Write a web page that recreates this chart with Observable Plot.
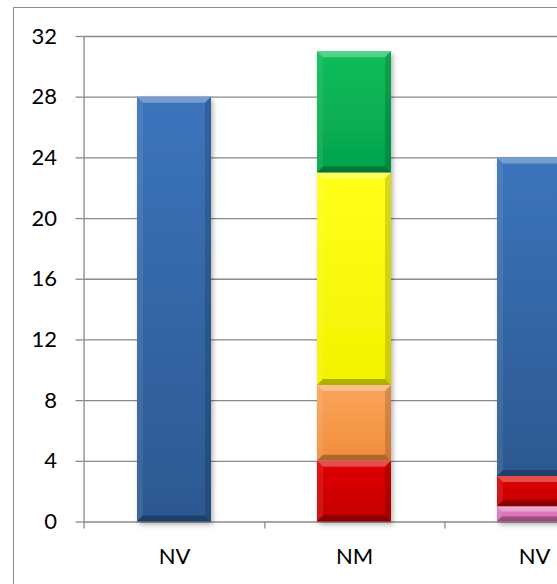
<!DOCTYPE html>
<html>
<head>
<meta charset="utf-8">
<script src="https://cdn.jsdelivr.net/npm/d3@7"></script>
<script src="https://cdn.jsdelivr.net/npm/@observablehq/plot@0.6"></script>
<style>
  html, body { margin: 0; padding: 0; background: #fff; overflow: hidden; }
  #wrap { position: relative; width: 557px; height: 584px; }
  #border { position: absolute; left: 13px; top: 7px; right: -2px; bottom: -2px;
            border-left: 1px solid #8c8c8c; border-top: 1px solid #8c8c8c; pointer-events: none; }
  svg { overflow: hidden; }
  svg [aria-label="y-axis tick"] { stroke: #898989; stroke-width: 1.3; }
</style>
</head>
<body>
<div id="wrap"><div id="border"></div></div>
<script>
// ---- data ----
const categoryKeys = ["c1", "c2", "c3"];
const categoryLabels = ["NV", "NM", "NV"];
const seriesNames = ["series1", "series2", "series3", "series4", "series5", "series6"];
const series1Values = [0, 0, 1];   // pink
const series2Values = [0, 4, 2];   // red
const series3Values = [0, 5, 0];   // orange
const series4Values = [0, 14, 0];  // yellow
const series5Values = [0, 8, 0];   // green
const series6Values = [28, 0, 21]; // blue
const yTicks = [0, 4, 8, 12, 16, 20, 24, 28, 32];

const seriesValues = {series1: series1Values, series2: series2Values, series3: series3Values,
  series4: series4Values, series5: series5Values, series6: series6Values};
const rows = [];
categoryKeys.forEach((c, i) => {
  seriesNames.forEach(s => {
    const v = seriesValues[s][i];
    if (v > 0) rows.push({category: c, series: s, value: v});
  });
});

const gradients = {
  series1: ["#e784c4", "#cf66a8"],
  series2: ["#e00000", "#c20000"],
  series3: ["#faa55a", "#f28d3c"],
  series4: ["#ffff1a", "#f3f300"],
  series5: ["#0bbd5b", "#05a34c"],
  series6: ["#3c74bc", "#2c5890"]
};

const left = 82.5, right = 625;
const step = (right - left) / categoryKeys.length;

const chart = Plot.plot({
  width: 557,
  height: 584,
  marginLeft: left,
  marginRight: 0,
  marginTop: 36,
  marginBottom: 62.5,
  style: {fontFamily: "Lato, 'Liberation Sans', sans-serif", fontSize: "22px", color: "#000", background: "transparent"},
  x: {type: "band", domain: categoryKeys, range: [left, right], paddingInner: 0.591, paddingOuter: 0.2955,
      tickFormat: d => categoryLabels[categoryKeys.indexOf(d)], tickSize: 0, tickPadding: 26, label: null},
  y: {domain: [0, 32], ticks: yTicks, tickSize: 7, tickPadding: 19, label: null},
  color: {type: "ordinal", domain: seriesNames, range: seriesNames.map(s => `url(#g-${s})`)},
  marks: [
    Plot.ruleY(yTicks, {y: d => d, stroke: "#898989", strokeWidth: 1.3}),
    Plot.ruleX(categoryKeys.slice(0, 1), {x: d => d, dx: -step / 2, y1: 32, y2: 0, insetBottom: -7, stroke: "#898989", strokeWidth: 1.3}),
    Plot.ruleX(categoryKeys, {x: d => d, dx: step / 2, y1: 0, y2: 0, insetBottom: -7, stroke: "#898989", strokeWidth: 1.3}),
    Plot.barY(rows, Plot.stackY({x: "category", y: "value", fill: "series"}))
  ]
});

// defs: gradients + shadow
const svg = d3.select(chart);
const defs = svg.insert("defs", ":first-child");
Object.entries(gradients).forEach(([k, [c0, c1]]) => {
  const g = defs.append("linearGradient").attr("id", `g-${k}`).attr("x1", 0).attr("y1", 0).attr("x2", 0).attr("y2", 1);
  g.append("stop").attr("offset", "0%").attr("stop-color", c0);
  g.append("stop").attr("offset", "100%").attr("stop-color", c1);
});
const f = defs.append("filter").attr("id", "shadow").attr("x", "-20%").attr("y", "-20%").attr("width", "150%").attr("height", "150%");
f.append("feDropShadow").attr("dx", 2).attr("dy", 3).attr("stdDeviation", 2.5).attr("flood-color", "#000").attr("flood-opacity", 0.3);

// bevel decoration derived from the rendered bar rects
const barGroup = svg.select('g[aria-label="bar"]');
barGroup.attr("filter", "url(#shadow)");
barGroup.selectAll("rect").each(function() {
  const r = d3.select(this);
  const x = +r.attr("x"), y = +r.attr("y"), w = +r.attr("width"), h = +r.attr("height");
  const b = Math.min(6, h / 3);
  const parent = d3.select(this.parentNode);
  const poly = (pts, fill, op) => parent.append("polygon")
    .attr("points", pts.map(p => p.join(",")).join(" ")).attr("fill", fill).attr("fill-opacity", op);
  poly([[x, y], [x + w, y], [x + w - b, y + b], [x + b, y + b]], "#fff", 0.3);
  poly([[x, y + h], [x + w, y + h], [x + w - b, y + h - b], [x + b, y + h - b]], "#000", 0.28);
  poly([[x, y], [x + b, y + b], [x + b, y + h - b], [x, y + h]], "#fff", 0.08);
  poly([[x + w, y], [x + w - b, y + b], [x + w - b, y + h - b], [x + w, y + h]], "#000", 0.15);
});

document.getElementById("wrap").insertBefore(chart, document.getElementById("border"));
chart.style.position = "absolute";
chart.style.left = "0";
chart.style.top = "0";
</script>
</body>
</html>
